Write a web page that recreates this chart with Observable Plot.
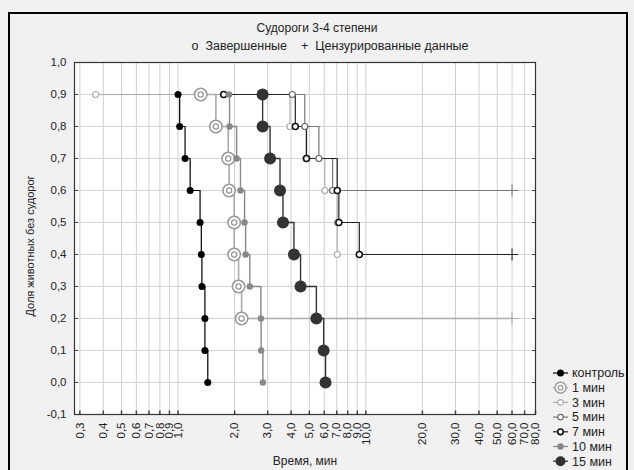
<!DOCTYPE html>
<html><head><meta charset="utf-8">
<script src="https://cdn.jsdelivr.net/npm/d3@7"></script>
<script src="https://cdn.jsdelivr.net/npm/@observablehq/plot@0.6"></script>
<style>
html,body{margin:0;padding:0;background:#f1f1f1;}
#wrap{position:relative;width:634px;height:470px;overflow:hidden;font-family:"Liberation Sans",Arial,sans-serif;color:#222;}
#border{position:absolute;left:8px;top:12px;width:620px;height:480px;border:2px solid #000;box-sizing:border-box;pointer-events:none;}
#chart{position:absolute;left:0;top:0;}
.t{position:absolute;white-space:nowrap;font-size:12px;}
#title{left:0;width:634px;text-align:center;top:21px;}
#subtitle{left:0;width:660px;text-align:center;top:39px;font-size:12.5px;}
#xlabel{left:0;width:610px;text-align:center;top:454px;}
#ylabel{left:30px;top:246px;font-size:11px;transform:translate(-50%,-50%) rotate(-90deg);transform-origin:center;}
</style>
</head><body>
<div id="wrap">
<div id="chart"></div>
<div class="t" id="title">Судороги 3-4 степени</div>
<div class="t" id="subtitle">o&nbsp;&nbsp;Завершенные&nbsp;&nbsp;&nbsp;&nbsp;+&nbsp;&nbsp;Цензурированные данные</div>
<div class="t" id="xlabel">Время, мин</div>
<div class="t" id="ylabel">Доля животных без судорог</div>
<div id="border"></div>
</div>
<script>
// ---- data ----
const seriesNames = ["контроль", "1 мин", "3 мин", "5 мин", "7 мин", "10 мин", "15 мин"];
const levels = [0.9, 0.8, 0.7, 0.6, 0.5, 0.4, 0.3, 0.2, 0.1, 0.0];
const tControl = [1.00, 1.02, 1.09, 1.16, 1.31, 1.33, 1.34, 1.39, 1.39, 1.44];
const t1 = [1.32, 1.59, 1.85, 1.87, 1.99, 1.99, 2.10, 2.18];
const t3 = [0.364, 3.94, 4.80, 6.05, 7.04, 7.04];
const t5 = [4.06, 4.73, 5.62, 6.65];
const t7 = [1.75, 4.21, 4.83, 7.04, 7.18, 9.23];
const t10 = [1.87, 1.88, 2.05, 2.15, 2.26, 2.29, 2.41, 2.76, 2.77, 2.83];
const t15 = [2.82, 2.82, 3.09, 3.49, 3.62, 4.14, 4.49, 5.45, 5.96, 6.10];
const censorSeries = ["1 мин", "5 мин", "7 мин"];
const censorTime = [60, 60, 60];
const censorLevel = [0.2, 0.6, 0.4];
const xTicks = [0.3, 0.4, 0.5, 0.6, 0.7, 0.8, 0.9, 1, 2, 3, 4, 5, 6, 7, 8, 9, 10, 20, 30, 40, 50, 60, 70, 80];
const yTicks = [-0.1, 0, 0.1, 0.2, 0.3, 0.4, 0.5, 0.6, 0.7, 0.8, 0.9, 1.0];

// ---- styles ----
const times = [tControl, t1, t3, t5, t7, t10, t15];
const style = {
  "контроль": {line: "#000", lw: 1.2, kind: "fill", fill: "#000", r: 3.5},
  "1 мин": {line: "#aaa", lw: 1.6, kind: "ring2", stroke: "#999", r: 6.2},
  "3 мин": {line: "#aaa", lw: 1, kind: "open", stroke: "#aaa", r: 3},
  "5 мин": {line: "#777", lw: 1.2, kind: "open", stroke: "#666", r: 3},
  "7 мин": {line: "#222", lw: 1.2, kind: "open", stroke: "#111", r: 3, sw: 1.6},
  "10 мин": {line: "#888", lw: 1.4, kind: "fill", fill: "#888", r: 3.2},
  "15 мин": {line: "#333", lw: 1.4, kind: "fill", fill: "#333", r: 6}
};

const points = [];
seriesNames.forEach((s, k) => times[k].forEach((t, i) => points.push({series: s, x: t, y: levels[i]})));
const censored = censorSeries.map((s, i) => ({series: s, x: censorTime[i], y: censorLevel[i]}));

const fmt = d => d.toFixed(1).replace(".", ",");
const tickUp = {draw(ctx) { ctx.moveTo(0, 0); ctx.lineTo(0, -4); }};

const marks = [
  Plot.frame({fill: "white", stroke: null}),
  Plot.gridX(xTicks, {stroke: "#cfcfcf", strokeOpacity: 1}),
  Plot.gridY(yTicks, {stroke: "#d4d4d4", strokeOpacity: 1}),
  Plot.dot(xTicks, {x: d => d, frameAnchor: "bottom", symbol: tickUp, stroke: "#444", fill: "none", r: 4}),
  Plot.text(xTicks, {x: d => d, frameAnchor: "bottom", dy: 8, rotate: -90, textAnchor: "end", lineAnchor: "middle", text: fmt, fontSize: 11.5, fill: "#222"}),
  Plot.axisY(yTicks, {tickSize: -4, tickPadding: 12, tickFormat: fmt, fontSize: 11.5, label: null, stroke: "#444"}),
  Plot.axisY(yTicks, {anchor: "right", tickSize: -4, tickFormat: () => "", label: null, stroke: "#444"})
];
// lines
seriesNames.forEach(s => {
  const st = style[s];
  const data = points.filter(d => d.series === s).concat(censored.filter(d => d.series === s));
  marks.push(Plot.line(data, {x: "x", y: "y", curve: "step-after", stroke: st.line, strokeWidth: st.lw}));
});
// censored marks
censored.forEach(c => {
  marks.push(Plot.dot([c], {x: "x", y: "y", symbol: "plus", r: 4, stroke: style[c.series].line, strokeWidth: 1}));
});
// dots
seriesNames.forEach(s => {
  const st = style[s];
  const data = points.filter(d => d.series === s);
  if (st.kind === "fill") marks.push(Plot.dot(data, {x: "x", y: "y", r: st.r, fill: st.fill, stroke: null}));
  else if (st.kind === "open") marks.push(Plot.dot(data, {x: "x", y: "y", r: st.r, fill: "white", stroke: st.stroke, strokeWidth: st.sw || 1.2}));
  else {
    marks.push(Plot.dot(data, {x: "x", y: "y", r: st.r, fill: "white", stroke: st.stroke, strokeWidth: 1.6}));
    marks.push(Plot.dot(data, {x: "x", y: "y", r: 2.6, fill: "none", stroke: st.stroke, strokeWidth: 1.3}));
  }
});
marks.push(Plot.frame({stroke: "#333", strokeWidth: 1.2}));

const chart = Plot.plot({
  width: 634, height: 470,
  marginLeft: 74, marginRight: 99, marginTop: 62, marginBottom: 56,
  style: {background: "transparent", fontFamily: "'Liberation Sans', Arial, sans-serif", fontSize: "11.5px", color: "#222"},
  x: {type: "log", domain: [0.281, 80], axis: null},
  y: {domain: [-0.1, 1.0]},
  marks
});
document.getElementById("chart").appendChild(chart);

// legend
const svg = d3.select(chart);
const lg = svg.append("g").attr("transform", "translate(553,373)").attr("text-anchor", "start");
seriesNames.forEach((s, i) => {
  const st = style[s];
  const g = lg.append("g").attr("transform", `translate(0,${i * 14.7})`);
  g.append("line").attr("x1", 0).attr("x2", 15).attr("y1", 0).attr("y2", 0).attr("stroke", st.line).attr("stroke-width", 1.2);
  if (st.kind === "fill") g.append("circle").attr("cx", 7.5).attr("r", Math.min(st.r, 5)).attr("fill", st.fill);
  else if (st.kind === "open") g.append("circle").attr("cx", 7.5).attr("r", 2.8).attr("fill", "white").attr("stroke", st.stroke).attr("stroke-width", st.sw || 1.2);
  else {
    g.append("circle").attr("cx", 7.5).attr("r", 5.5).attr("fill", "white").attr("stroke", st.stroke).attr("stroke-width", 1.5);
    g.append("circle").attr("cx", 7.5).attr("r", 2.4).attr("fill", "none").attr("stroke", st.stroke).attr("stroke-width", 1.2);
  }
  g.append("text").attr("x", 19).attr("y", 0).attr("dy", "0.35em").attr("text-anchor", "start").attr("font-size", 12.5).attr("fill", "#222").text(s);
});
</script>
</body></html>
